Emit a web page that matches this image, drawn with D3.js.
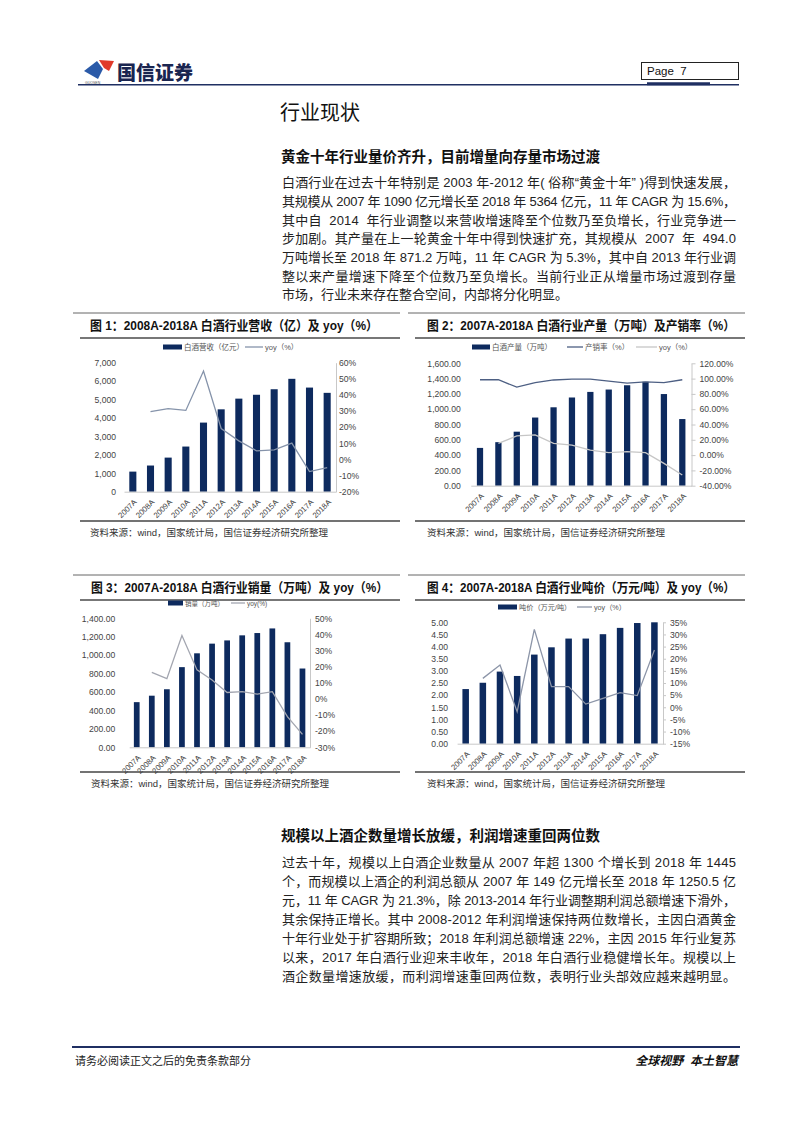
<!DOCTYPE html>
<html><head><meta charset="utf-8">
<script src="https://cdn.jsdelivr.net/npm/d3@7/dist/d3.min.js"></script>
<style>body{margin:0;background:#fff}</style>
</head><body>
<svg id="page" width="802" height="1133" xmlns="http://www.w3.org/2000/svg"></svg>
<script>
// ---------- DATA ----------
const years = ["2007A","2008A","2009A","2010A","2011A","2012A","2013A","2014A","2015A","2016A","2017A","2018A"];
// Fig 1: revenue (亿元) and yoy (%)
const revenue    = [1090, 1420, 1850, 2450, 3750, 4470, 5050, 5260, 5560, 6125, 5650, 5364];
const revenueYoy = [null, 29.6, 31.5, 30.4, 54.8, 19.2, 11.5, 5.3, 6.0, 10.1, -7.5, -5.1];
// Fig 2: production (万吨), sales ratio (%), yoy (%)
const production    = [494.0, 569, 706, 891, 1025, 1153, 1226, 1257, 1313, 1358, 1198, 871.2];
const salesRatio    = [98.5, 98.5, 88.8, 94.6, 98.2, 99.3, 99.3, 96.6, 94.0, 95.6, 94.8, 98.5];
const productionYoy = [null, 15.4, 25.0, 26.5, 15.4, 13.0, 6.6, 3.2, 4.5, 3.2, -10.8, -26.0];
// Fig 3: sales volume (万吨) and yoy (%)
const sales    = [490, 560, 630, 870, 1020, 1125, 1160, 1215, 1240, 1290, 1140, 855];
const salesYoy = [null, 16.5, 12.6, 39.3, 18.0, 11.8, 4.0, 4.5, 3.0, 4.5, -11.0, -22.0];
// Fig 4: price per ton (万元/吨) and yoy (%)
const price    = [2.25, 2.51, 2.97, 2.79, 3.67, 3.97, 4.33, 4.33, 4.51, 4.77, 4.97, 5.00];
const priceYoy = [null, 11.9, 17.4, -1.8, 32.1, 8.5, 8.5, 1.3, 3.7, 6.0, 4.8, 23.6];
// tick values
const c1LeftTicks  = [0,1000,2000,3000,4000,5000,6000,7000];
const c1RightTicks = [-20,-10,0,10,20,30,40,50,60];
const c2LeftTicks  = [0,200,400,600,800,1000,1200,1400,1600];
const c2RightTicks = [-40,-20,0,20,40,60,80,100,120];
const c3LeftTicks  = [0,200,400,600,800,1000,1200,1400];
const c3RightTicks = [-30,-20,-10,0,10,20,30,40,50];
const c4LeftTicks  = [0,0.5,1,1.5,2,2.5,3,3.5,4,4.5,5];
const c4RightTicks = [-15,-10,-5,0,5,10,15,20,25,30,35];

// ---------- PAGE ----------
const svg = d3.select("#page");
const FONT = "'Liberation Sans', Arial, 'Noto Sans CJK SC', sans-serif";
const NAVY = "#1f2f62";
const BAR = "#0d2a5e";
svg.append("rect").attr("width",802).attr("height",1133).attr("fill","#fff");

// header logo
svg.append("path").attr("d","M84,71 L97,61 L103,69 L98,79 Z").attr("fill","#2b5aa8");
svg.append("path").attr("d","M99,60 L114,61 L109,71 L104,68 Z").attr("fill","#e03a2a");
svg.append("text").attr("x",85).attr("y",84).attr("font-size",3.5).attr("font-family",FONT).attr("fill","#555").text("GUOSEN");
svg.append("text").attr("x",117).attr("y",80).attr("font-size",19).attr("font-weight",900)
  .attr("font-family","'Noto Sans CJK SC', sans-serif").attr("fill","#1a2550").text("国信证券");
svg.append("rect").attr("x",641.5).attr("y",62.5).attr("width",97).attr("height",17).attr("fill","none").attr("stroke","#222").attr("stroke-width",1);
svg.append("text").attr("x",647).attr("y",75).attr("font-size",11.5).attr("font-family",FONT).attr("fill","#111").style("white-space","pre").text("Page  7");
svg.append("line").attr("x1",78).attr("x2",739).attr("y1",84.8).attr("y2",84.8).attr("stroke",NAVY).attr("stroke-width",1.4);
svg.append("line").attr("x1",647).attr("x2",710).attr("y1",83.8).attr("y2",83.8).attr("stroke",NAVY).attr("stroke-width",3);

// title
svg.append("text").attr("x",280).attr("y",120).attr("font-size",20).attr("font-family",FONT).attr("fill","#111").text("行业现状");

function textBlock(heading, hy, lines, y0, lh, justifyLast) {
  svg.append("text").attr("x",281).attr("y",hy+5).attr("font-size",14.5).attr("font-weight",700)
    .attr("font-family",FONT).attr("fill","#111").text(heading);
  lines.forEach((ln,i)=>{
    const t = svg.append("text").attr("x",282).attr("y",y0+i*lh+4.5).attr("font-size",13)
      .attr("font-family",FONT).attr("fill","#222").style("white-space","pre").text(ln);
    if (i < lines.length-1 || justifyLast) t.attr("textLength",454).attr("lengthAdjust","spacing");
  });
}
textBlock("黄金十年行业量价齐升，目前增量向存量市场过渡", 157, [
  "白酒行业在过去十年特别是 2003 年-2012 年( 俗称“黄金十年” )得到快速发展，",
  "其规模从 2007 年 1090 亿元增长至 2018 年 5364 亿元，11 年 CAGR 为 15.6%，",
  "其中自  2014  年行业调整以来营收增速降至个位数乃至负增长，行业竞争进一",
  "步加剧。其产量在上一轮黄金十年中得到快速扩充，其规模从  2007  年  494.0",
  "万吨增长至 2018 年 871.2 万吨，11 年 CAGR 为 5.3%，其中自 2013 年行业调",
  "整以来产量增速下降至个位数乃至负增长。当前行业正从增量市场过渡到存量",
  "市场，行业未来存在整合空间，内部将分化明显。"
], 182.7, 18.7, false);
textBlock("规模以上酒企数量增长放缓，利润增速重回两位数", 836, [
  "过去十年，规模以上白酒企业数量从 2007 年超 1300 个增长到 2018 年 1445",
  "个，而规模以上酒企的利润总额从 2007 年 149 亿元增长至 2018 年 1250.5 亿",
  "元，11 年 CAGR 为 21.3%，除 2013-2014 年行业调整期利润总额增速下滑外，",
  "其余保持正增长。其中 2008-2012 年利润增速保持两位数增长，主因白酒黄金",
  "十年行业处于扩容期所致；2018 年利润总额增速 22%，主因 2015 年行业复苏",
  "以来，2017 年白酒行业迎来丰收年，2018 年白酒行业稳健增长年。规模以上",
  "酒企数量增速放缓，而利润增速重回两位数，表明行业头部效应越来越明显。"
], 862.7, 19, true);

// footer
svg.append("line").attr("x1",72).attr("x2",740).attr("y1",1047).attr("y2",1047).attr("stroke",NAVY).attr("stroke-width",2);
svg.append("text").attr("x",75).attr("y",1065).attr("font-size",11).attr("font-family",FONT).attr("fill","#222").text("请务必阅读正文之后的免责条款部分");
svg.append("text").attr("x",738).attr("y",1065).attr("text-anchor","end").attr("font-size",12).attr("font-weight",700)
  .attr("font-style","italic").attr("font-family",FONT).attr("fill","#111").style("white-space","pre").text("全球视野  本土智慧");

// ---------- CHARTS ----------
function frame(c) {
  svg.append("line").attr("x1",c.fx0).attr("x2",c.fx1).attr("y1",c.ty).attr("y2",c.ty).attr("stroke","#666").attr("stroke-width",1);
  svg.append("text").attr("x",c.titleX).attr("y",c.ty+16.5).attr("font-size",13).attr("font-weight",700)
    .attr("font-family",FONT).attr("fill","#111").attr("textLength",c.titleW).attr("lengthAdjust","spacingAndGlyphs").text(c.title);
  svg.append("line").attr("x1",c.fx0+7).attr("x2",c.fx1).attr("y1",c.ty+25).attr("y2",c.ty+25).attr("stroke","#777").attr("stroke-width",1.8);
  svg.append("line").attr("x1",c.fx0+7).attr("x2",c.fx1).attr("y1",c.by).attr("y2",c.by).attr("stroke","#444").attr("stroke-width",1.4);
  svg.append("text").attr("x",c.titleX).attr("y",c.by+14.5).attr("font-size",9.5).attr("font-family",FONT).attr("fill","#333")
    .text("资料来源：wind，国家统计局，国信证券经济研究所整理");
}

function drawChart(c) {
  frame(c);
  const g = svg.append("g");
  const x = d3.scalePoint().domain(years).range([c.left, c.right]).padding(0.5);
  const bw = x.step()*c.barRatio;
  const yL = d3.scaleLinear().domain(c.lDomain).range([c.bottom, c.top]);
  const yR = d3.scaleLinear().domain(c.rDomain).range([c.bottom, c.top]);

  // bars
  g.selectAll("rect.bar").data(c.bars).join("rect").attr("class","bar")
    .attr("x",(d,i)=>x(years[i])-bw/2).attr("width",bw)
    .attr("y",d=>yL(d)).attr("height",d=>yL(0)-yL(d)).attr("fill",BAR);

  // x axis
  const xa = g.append("g").attr("transform",`translate(0,${yL(0)})`)
    .call(d3.axisBottom(x).tickSize(0).tickSizeOuter(0));
  xa.select(".domain").attr("stroke","#c8c8c8").attr("stroke-width",1);
  xa.selectAll("text").attr("y",0).attr("dy","0.35em").attr("text-anchor","end")
    .attr("transform","translate(2,9) rotate(-45)")
    .attr("font-size",7.8).attr("font-family",FONT).attr("fill","#444");

  // left axis
  const la = g.append("g").attr("transform",`translate(${c.left},0)`)
    .call(d3.axisLeft(yL).tickValues(c.lTicks).tickFormat(c.lFmt).tickSize(0).tickPadding(c.lPad));
  la.select(".domain").remove();
  la.selectAll("text").attr("font-size",8.6).attr("font-family",FONT).attr("fill","#444");

  // right axis
  const ra = g.append("g").attr("transform",`translate(${c.right},0)`)
    .call(d3.axisRight(yR).tickValues(c.rTicks).tickFormat(c.rFmt).tickSize(c.rTick).tickSizeOuter(0).tickPadding(c.rPad));
  ra.select(".domain").attr("stroke","#c8c8c8");
  ra.selectAll("line").attr("stroke","#c8c8c8");
  ra.selectAll("text").attr("font-size",8.6).attr("font-family",FONT).attr("fill","#444");

  // lines
  c.lines.forEach(L=>{
    const line = d3.line().defined(d=>d!=null).x((d,i)=>x(years[i])).y(d=>yR(d));
    g.append("path").datum(L.data).attr("d",line).attr("fill","none").attr("stroke",L.color).attr("stroke-width",L.w||1.3);
  });

  // legend
  const lg = svg.append("g");
  c.legend.forEach(it=>{
    if (it.type==="bar") lg.append("rect").attr("x",it.x).attr("y",c.legY-2.5).attr("width",it.w).attr("height",5).attr("fill",BAR);
    else lg.append("line").attr("x1",it.x).attr("x2",it.x+it.w).attr("y1",c.legY).attr("y2",c.legY).attr("stroke",it.color).attr("stroke-width",1.3);
    lg.append("text").attr("x",it.x+it.w+2).attr("y",c.legY+2.6).attr("font-size",c.legFs).attr("font-family",FONT).attr("fill","#555").text(it.label);
  });
}

const pct = d=>d+"%";
drawChart({
  title:"图 1：2008A-2018A 白酒行业营收（亿）及 yoy（%）", titleX:90, titleW:288,
  fx0:73, fx1:400, ty:313, by:521,
  left:124, right:336, top:362.7, bottom:491.7, barRatio:0.4,
  bars:revenue, lDomain:[0,7000], rDomain:[-20,60],
  lTicks:c1LeftTicks, rTicks:c1RightTicks, lFmt:d3.format(","), rFmt:pct, lPad:8, rTick:0, rPad:3,
  lines:[{data:revenueYoy, color:"#8593aa"}],
  legY:347, legFs:7.5,
  legend:[{type:"bar",x:163,w:19,label:"白酒营收（亿元）"},{type:"line",x:245,w:18,color:"#8593aa",label:"yoy（%）"}]
});
drawChart({
  title:"图 2：2007A-2018A 白酒行业产量（万吨）及产销率（%）", titleX:427, titleW:308,
  fx0:408, fx1:745, ty:313, by:521,
  left:470.8, right:691.5, top:363.3, bottom:485.7, barRatio:0.34,
  bars:production, lDomain:[0,1600], rDomain:[-40,120],
  lTicks:c2LeftTicks, rTicks:c2RightTicks, lFmt:d3.format(",.2f"), rFmt:d=>d.toFixed(2)+"%", lPad:10, rTick:4, rPad:4,
  lines:[{data:salesRatio, color:"#4d5f83"},{data:productionYoy, color:"#c6c6c6"}],
  legY:347, legFs:7.5,
  legend:[{type:"bar",x:472,w:18,label:"白酒产量（万吨）"},{type:"line",x:567,w:16,color:"#4d5f83",label:"产销率（%）"},{type:"line",x:636,w:21,color:"#c6c6c6",label:"yoy（%）"}]
});
drawChart({
  title:"图 3：2007A-2018A 白酒行业销量（万吨）及 yoy（%）", titleX:91, titleW:297,
  fx0:73, fx1:400, ty:575, by:772,
  left:129.2, right:310, top:618.3, bottom:747.3, barRatio:0.38,
  bars:sales, lDomain:[0,1400], rDomain:[-30,50],
  lTicks:c3LeftTicks, rTicks:c3RightTicks, lFmt:d3.format(",.2f"), rFmt:pct, lPad:14, rTick:0, rPad:5,
  lines:[{data:salesYoy, color:"#a3a6b0"}],
  legY:603, legFs:6.5,
  legend:[{type:"bar",x:168,w:15,label:"销量（万吨）"},{type:"line",x:231,w:14,color:"#a3a6b0",label:"yoy(%)"}]
});
drawChart({
  title:"图 4：2007A-2018A 白酒行业吨价（万元/吨）及 yoy（%）", titleX:427, titleW:308,
  fx0:408, fx1:745, ty:575, by:772,
  left:457.1, right:663, top:622.3, bottom:743.7, barRatio:0.38,
  bars:price, lDomain:[0,5], rDomain:[-15,35],
  lTicks:c4LeftTicks, rTicks:c4RightTicks, lFmt:d3.format(".2f"), rFmt:pct, lPad:9, rTick:3, rPad:4,
  lines:[{data:priceYoy, color:"#8c95a8"}],
  legY:607, legFs:7.2,
  legend:[{type:"bar",x:498,w:19,label:"吨价（万元/吨）"},{type:"line",x:577,w:15,color:"#8c95a8",label:"yoy（%）"}]
});
</script>
</body></html>
